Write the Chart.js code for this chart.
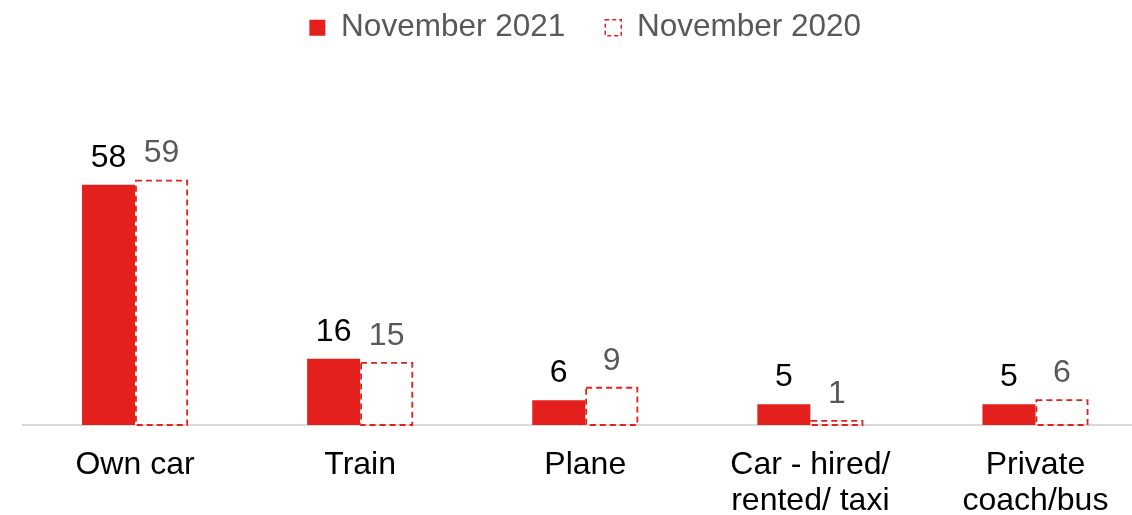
<!DOCTYPE html>
<html lang="en">
<head>
<meta charset="UTF-8">
<title>chart</title>
<script src="https://cdn.jsdelivr.net/npm/chart.js"></script>
<style>
  html, body { margin: 0; padding: 0; background: #fff; overflow: hidden; }
  #wrap { width: 1148px; height: 515px; }
</style>
</head>
<body>
<div id="wrap"><canvas id="myChart"></canvas></div>
<script>
const labels = ['Own car', 'Train', 'Plane', ['Car - hired/', 'rented/ taxi'], ['Private', 'coach/bus']];
const nov2021 = [58, 16, 6, 5, 5];
const nov2020 = [59, 15, 9, 1, 6];

const RED = '#e3201b';
const FONT = '"Liberation Sans", Arial, sans-serif';

// dashed outline for the 2020 bars + value labels above bars
const barExtras = {
  id: 'barExtras',
  afterDatasetsDraw(chart) {
    const ctx = chart.ctx;
    const meta1 = chart.getDatasetMeta(1);
    ctx.save();
    ctx.strokeStyle = RED;
    ctx.lineWidth = 1.8;
    ctx.setLineDash([6, 4]);
    meta1.data.forEach(bar => {
      const p = bar.getProps(['x', 'y', 'base', 'width'], true);
      ctx.strokeRect(p.x - p.width / 2 + 0.9, p.y, p.width - 1.8, p.base - p.y);
    });
    ctx.restore();

    ctx.save();
    ctx.font = '32px ' + FONT;
    ctx.textAlign = 'center';
    ctx.textBaseline = 'bottom';
    const colors = ['#000000', '#595959'];
    chart.data.datasets.forEach((ds, i) => {
      chart.getDatasetMeta(i).data.forEach((bar, j) => {
        const p = bar.getProps(['x', 'y'], true);
        ctx.fillStyle = colors[i];
        ctx.fillText(ds.data[j], p.x, p.y - 11);
      });
    });
    ctx.restore();
  }
};

const data = {
  labels: labels,
  datasets: [
    {
      label: 'November 2021',
      data: nov2021,
      backgroundColor: RED,
      borderWidth: 0
    },
    {
      label: 'November 2020',
      data: nov2020,
      backgroundColor: 'rgba(255,255,255,0)',
      borderWidth: 0
    }
  ]
};

const config = {
  type: 'bar',
  data: data,
  options: {
    responsive: true,
    maintainAspectRatio: false,
    animation: false,
    layout: { padding: { left: 22.5, right: 0, top: -28, bottom: -25.7 } },
    plugins: {
      tooltip: { enabled: false },
      legend: {
        position: 'top',
        labels: {
          color: '#595959',
          font: { family: FONT, size: 31.5 },
          boxWidth: 16,
          boxHeight: 16,
          padding: 40,
          generateLabels() {
            return [
              { text: 'November 2021', fillStyle: RED, strokeStyle: RED, lineWidth: 0, datasetIndex: 0, fontColor: '#595959' },
              { text: 'November 2020', fillStyle: '#ffffff', strokeStyle: RED, lineWidth: 1.5, lineDash: [4, 3], datasetIndex: 1, fontColor: '#595959' }
            ];
          }
        }
      }
    },
    datasets: {
      bar: { categoryPercentage: 0.471, barPercentage: 1.0 }
    },
    scales: {
      x: {
        grid: { display: false, drawTicks: false },
        border: { display: true, color: '#d9d9d9', width: 2 },
        ticks: {
          color: '#000000',
          font: { family: FONT, size: 32, lineHeight: 1.12 },
          padding: 22,
          maxRotation: 0,
          autoSkip: false
        }
      },
      y: {
        display: false,
        min: 0,
        max: 89.7
      }
    }
  },
  plugins: [barExtras]
};

const ctx = document.getElementById('myChart').getContext('2d');
const myChart = new Chart(ctx, config);
</script>
</body>
</html>
